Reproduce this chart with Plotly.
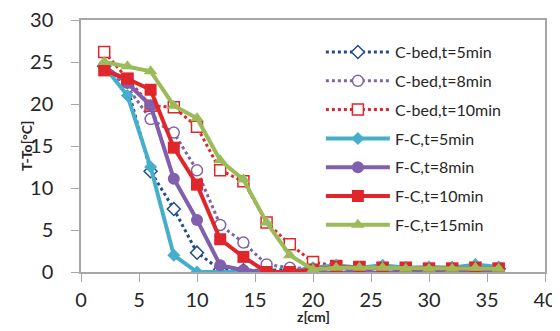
import plotly.graph_objects as go

z = [2, 4, 6, 8, 10, 12, 14, 16, 18, 20, 22, 24, 26, 28, 30, 32, 34, 36]

cbed_t5 = [24.5, 22.0, 12.0, 7.5, 2.3, 0.3, 0.2, 0.2, 0.3, 0.4, 0.5, 0.4, 0.5, 0.4, 0.3, 0.4, 0.6, 0.4]
cbed_t8 = [24.5, 22.0, 18.2, 16.6, 12.1, 5.6, 3.5, 0.9, 0.5, 0.4, 0.5, 0.4, 0.4, 0.4, 0.3, 0.4, 0.5, 0.4]
cbed_t10 = [26.2, 23.0, 19.8, 19.6, 17.3, 12.1, 10.8, 5.9, 3.3, 1.2, 0.7, 0.6, 0.5, 0.5, 0.4, 0.4, 0.5, 0.4]
fc_t5 = [24.5, 21.0, 12.5, 2.0, 0.0, 0.0, 0.0, 0.0, 0.0, 0.5, 0.8, 0.5, 0.8, 0.5, 0.6, 0.5, 0.9, 0.6]
fc_t8 = [24.5, 22.5, 19.8, 11.1, 6.2, 0.8, 0.2, 0.0, 0.0, 0.2, -0.2, 0.2, -0.2, 0.2, 0.0, 0.2, 0.2, 0.2]
fc_t10 = [24.0, 23.0, 21.7, 14.8, 10.4, 3.9, 1.8, 0.0, 0.0, 0.3, 0.6, 0.5, 0.5, 0.4, 0.4, 0.4, 0.5, 0.4]
fc_t15 = [25.0, 24.5, 23.9, 19.8, 18.3, 13.3, 11.0, 5.9, 2.0, 0.3, 0.5, 0.5, 0.5, 0.4, 0.4, 0.4, 0.5, 0.4]

names = ["C-bed,t=5min", "C-bed,t=8min", "C-bed,t=10min",
         "F-C,t=5min", "F-C,t=8min", "F-C,t=10min", "F-C,t=15min"]

fig = go.Figure()

def add(y, name, color, dash, width, symbol, size, fill, grp):
    fig.add_trace(go.Scatter(
        x=z, y=y, name=name, mode="lines+markers", legendgroup=grp,
        line=dict(color=color, dash=dash, width=width),
        marker=dict(symbol=symbol, size=size, color=fill,
                    line=dict(color=color, width=1.5 if fill == "white" else 0)),
    ))

add(cbed_t5, names[0], "#1F4E8C", "dot", 3, "diamond", 10, "white", "g1")
add(cbed_t8, names[1], "#8064A2", "dot", 3, "circle", 11, "white", "g2")
add(cbed_t10, names[2], "#E0262B", "dot", 3, "square", 11, "white", "g3")
add(fc_t5, names[3], "#45AFCB", "solid", 4, "diamond", 10, "#45AFCB", "g4")
add(fc_t8, names[4], "#7F5FAE", "solid", 4, "circle", 12, "#7F5FAE", "g5")
add(fc_t10, names[5], "#E0262B", "solid", 4, "square", 12, "#E0262B", "g6")
add(fc_t15, names[6], "#9BBB59", "solid", 4, "triangle-up", 12, "#9BBB59", "g7")

axis_common = dict(showgrid=False, zeroline=False, showline=True, linecolor="#A6A6A6",
                   linewidth=1.5, mirror=True, ticks="outside", ticklen=8,
                   tickcolor="#A6A6A6", automargin=False, ticklabeloverflow="allow",
                   tickfont=dict(family="Lato", size=20, color="#262626"))

title_font = dict(family="Lato", size=14, color="#262626")

fig.update_layout(
    width=552, height=323,
    margin=dict(l=73, r=15, t=12, b=59),
    paper_bgcolor="white", plot_bgcolor="white",
    xaxis=dict(range=[0, 40], dtick=5, ticklabelstandoff=1, **axis_common),
    yaxis=dict(range=[0, 30], dtick=5, ticklabelstandoff=14, **axis_common),
    legend=dict(x=0.517, y=0.94, xanchor="left", yanchor="top", bgcolor="rgba(0,0,0,0)",
                font=dict(family="Lato", size=16, color="#262626"),
                itemwidth=64, tracegroupgap=5, traceorder="grouped"),
    annotations=[
        dict(text="<b>z[cm]</b>", xref="paper", yref="paper", x=0.5, y=-0.175,
             xanchor="center", yanchor="middle", showarrow=False, font=title_font),
        dict(text="<b>T-To[°C]</b>", xref="paper", yref="paper", x=-0.1185, y=0.5,
             xanchor="center", yanchor="middle", showarrow=False, textangle=-90, font=title_font),
    ],
)

fig.write_html("out.html")
